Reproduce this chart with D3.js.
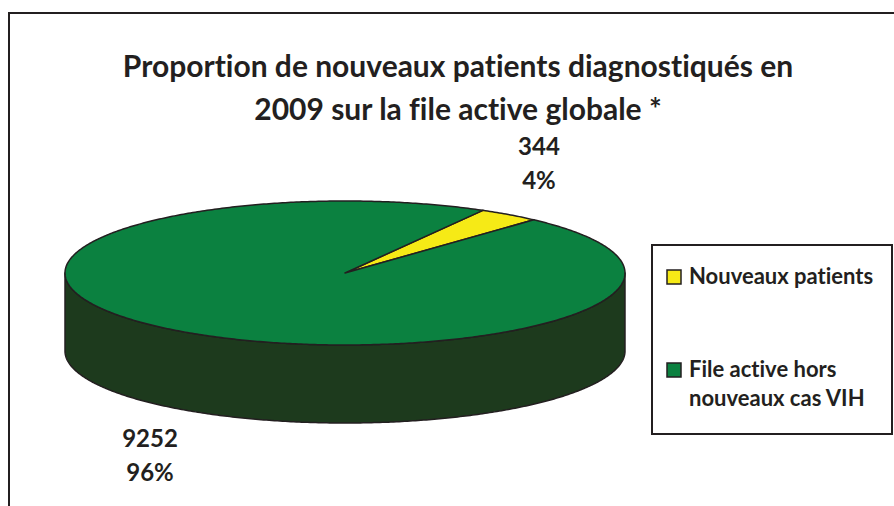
<!DOCTYPE html>
<html>
<head>
<meta charset="utf-8">
<script src="https://cdn.jsdelivr.net/npm/d3@7"></script>
<style>
  body { margin: 0; background: #fff; }
  svg { display: block; font-family: Lato, "Open Sans", sans-serif; font-weight: bold; font-variant-ligatures: none; }
</style>
</head>
<body>
<svg id="chart"></svg>
<script>
const titleLines = ["Proportion de nouveaux patients diagnostiqués en", "2009 sur la file active globale *"];
const categories = ["Nouveaux patients", "File active hors nouveaux cas VIH"];
const legendLines = [["Nouveaux patients"], ["File active hors", "nouveaux cas VIH"]];
const values = [344, 9252];
const percents = ["4%", "96%"];
const colors = ["#f6ea16", "#0b8140"];
const sideColors = ["#8a8410", "#1d3a1d"];

const width = 894;
const height = 506;
const ink = "#231f20";

const svg = d3.select("#chart")
    .attr("width", width)
    .attr("height", height);

// outer frame (runs past the picture on right and bottom)
svg.append("rect")
    .attr("x", 9).attr("y", 13)
    .attr("width", 920).attr("height", 600)
    .attr("fill", "none")
    .attr("stroke", ink)
    .attr("stroke-width", 2);

svg.append("text")
    .attr("text-anchor", "middle")
    .attr("font-size", "30px")
    .attr("fill", ink)
    .selectAll("tspan")
    .data(titleLines)
    .enter()
    .append("tspan")
    .attr("x", 458)
    .attr("y", (d, i) => 77 + i * 43)
    .text(d => d);

// 3D pie
const cx = 345, cy = 273, rx = 280, ry = 72, depth = 78;
const startDeg = 29.5;

const pie = d3.pie()
    .sort(null)
    .value(d => d)
    .startAngle(startDeg * Math.PI / 180)
    .endAngle(startDeg * Math.PI / 180 + 2 * Math.PI);

const arcs = pie(values);

const px = a => cx + rx * Math.sin(a);
const py = (a, dz = 0) => cy - ry * Math.cos(a) + dz;

function arcPoints(a0, a1, dz = 0) {
    const n = Math.max(2, Math.ceil((a1 - a0) / 0.01));
    return d3.range(n + 1).map(i => {
        const a = a0 + (a1 - a0) * i / n;
        return [px(a), py(a, dz)];
    });
}

const line = d3.line();

// side walls, only the front half (between 90 and 270 degrees) is visible
const frontA = Math.PI / 2, frontB = 3 * Math.PI / 2;
function frontRanges(d) {
    const out = [];
    for (let k = -1; k <= 1; k++) {
        const lo = Math.max(d.startAngle, frontA + k * 2 * Math.PI);
        const hi = Math.min(d.endAngle, frontB + k * 2 * Math.PI);
        if (hi > lo) out.push([lo, hi]);
    }
    return out;
}

const sides = svg.append("g");
arcs.forEach((d, i) => {
    frontRanges(d).forEach(([a0, a1]) => {
        const pts = arcPoints(a0, a1).concat(arcPoints(a0, a1, depth).reverse());
        sides.append("path")
            .attr("d", line(pts) + "Z")
            .attr("fill", sideColors[i])
            .attr("stroke", ink)
            .attr("stroke-width", 1.5)
            .attr("stroke-linejoin", "round");
    });
});

const tops = svg.append("g");
arcs.forEach((d, i) => {
    const pts = [[cx, cy]].concat(arcPoints(d.startAngle, d.endAngle));
    tops.append("path")
        .attr("d", line(pts) + "Z")
        .attr("fill", colors[i])
        .attr("stroke", ink)
        .attr("stroke-width", 1.5)
        .attr("stroke-linejoin", "round");
});

// data labels
const labelPos = [[539, 155], [150, 447]];
const labels = svg.append("g")
    .attr("text-anchor", "middle")
    .attr("font-size", "24px")
    .attr("fill", ink);
arcs.forEach((d, i) => {
    const t = labels.append("text");
    t.append("tspan").attr("x", labelPos[i][0]).attr("y", labelPos[i][1]).text(values[i]);
    t.append("tspan").attr("x", labelPos[i][0]).attr("y", labelPos[i][1] + 34).text(percents[i]);
});

// legend
const legend = svg.append("g");
legend.append("rect")
    .attr("x", 652).attr("y", 245)
    .attr("width", 240).attr("height", 189)
    .attr("fill", "#fff")
    .attr("stroke", ink)
    .attr("stroke-width", 2);

const legendY = [270, 363];
const item = legend.selectAll("g.item")
    .data(categories)
    .enter()
    .append("g")
    .attr("class", "item")
    .attr("transform", (d, i) => `translate(667,${legendY[i]})`);

item.append("rect")
    .attr("width", 14).attr("height", 14)
    .attr("fill", (d, i) => colors[i])
    .attr("stroke", ink)
    .attr("stroke-width", 1.5);

item.append("text")
    .attr("font-size", "22px")
    .attr("fill", ink)
    .selectAll("tspan")
    .data((d, i) => legendLines[i])
    .enter()
    .append("tspan")
    .attr("x", 22)
    .attr("y", (d, i) => 14 + i * 29)
    .text(d => d);
</script>
</body>
</html>
